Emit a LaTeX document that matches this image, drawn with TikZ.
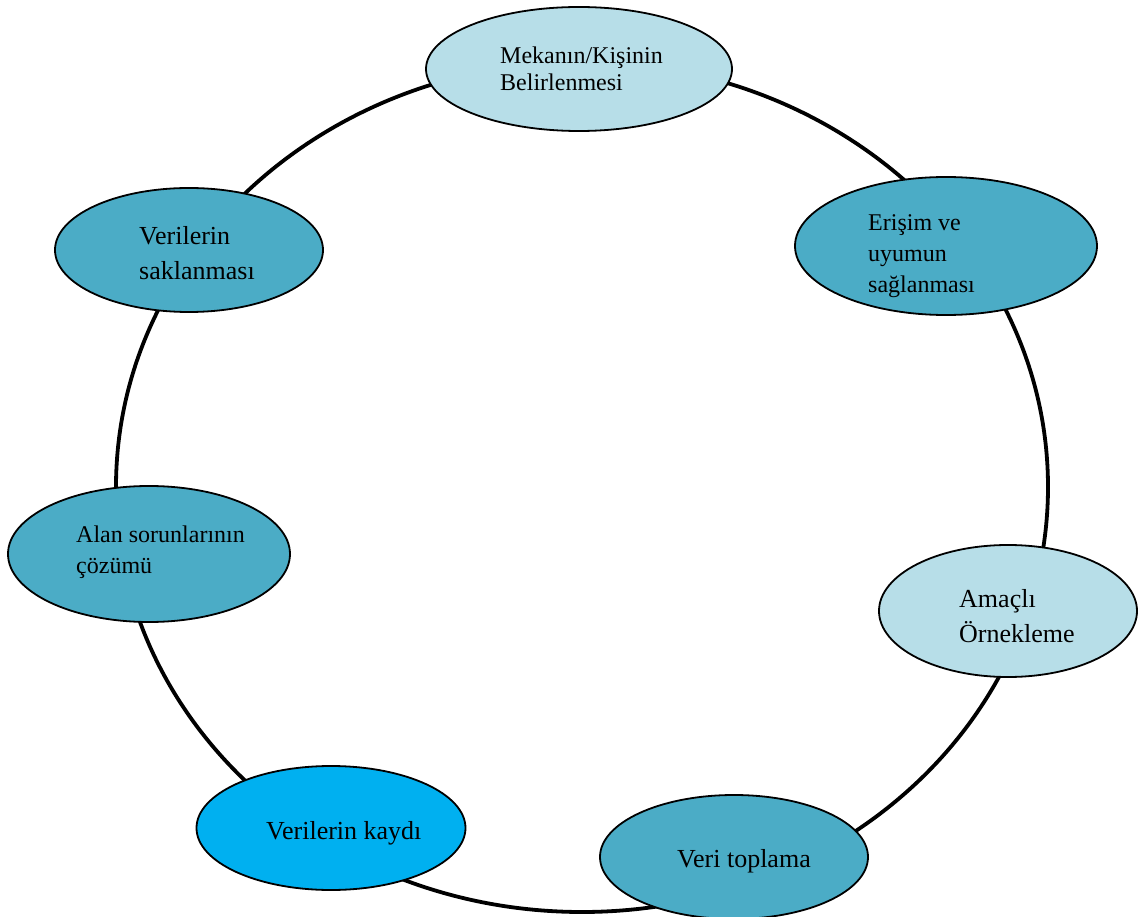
\documentclass[tikz,border=0pt]{standalone}
\usepackage{fontspec}
\setmainfont{Liberation Serif}
\usetikzlibrary{shapes.geometric}
\definecolor{palecyan}{HTML}{B7DEE8}
\definecolor{tealblue}{HTML}{4BACC6}
\definecolor{brightsky}{HTML}{00B0F0}

\begin{document}
\begin{tikzpicture}[x=1pt,y=-1pt,
  stage/.style={ellipse, draw, line width=1.8pt, inner sep=0pt},
  small/.style={anchor=base west, align=left, inner xsep=0pt, font=\fontsize{24}{31}\selectfont},
  large/.style={anchor=base west, align=left, inner xsep=0pt, font=\fontsize{26}{35}\selectfont}]
\useasboundingbox (0,0) rectangle (1144,917);

% cycle
\draw[line width=3.8pt] (582,487) ellipse [x radius=466, y radius=425];

% stages
\node[stage, fill=palecyan, minimum width=306, minimum height=124] (place) at (579,69) {};
\node[stage, fill=tealblue, minimum width=302, minimum height=138] (access) at (946,246) {};
\node[stage, fill=palecyan, minimum width=258, minimum height=132] (sample) at (1008,611) {};
\node[stage, fill=tealblue, minimum width=268, minimum height=124] (collect) at (734,857) {};
\node[stage, fill=brightsky, minimum width=269, minimum height=124] (record) at (331,828) {};
\node[stage, fill=tealblue, minimum width=282, minimum height=136] (solve) at (149,554) {};
\node[stage, fill=tealblue, minimum width=268, minimum height=124] (store) at (189,250) {};

% labels (base = last line)
\node[small, font=\fontsize{24}{27}\selectfont] (placetext) at (500,91) {Mekanın/Kişinin\\Belirlenmesi};
\node[small] (accesstext) at (868,293) {Erişim ve\\uyumun\\sağlanması};
\node[large] (sampletext) at (959,642) {Amaçlı\\Örnekleme};
\node[large] (collecttext) at (677,867) {Veri toplama};
\node[large] (recordtext) at (266,839) {Verilerin kaydı};
\node[small] (solvetext) at (76,573) {Alan sorunlarının\\çözümü};
\node[large] (storetext) at (139,280) {Verilerin\\saklanması};
\end{tikzpicture}
\end{document}
